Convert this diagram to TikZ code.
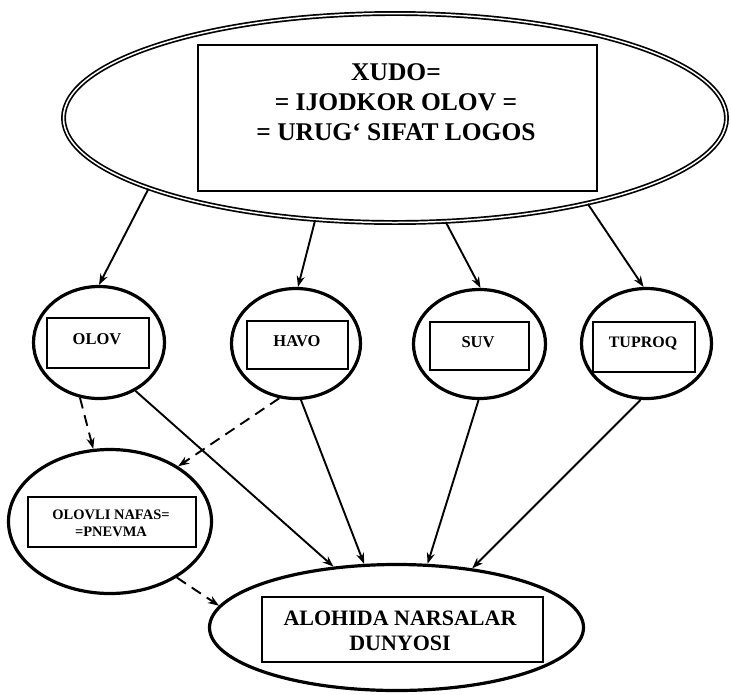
\documentclass[tikz,border=0pt]{standalone}
\usepackage{fontspec}
\setmainfont{Liberation Serif}
\usetikzlibrary{shapes.geometric,arrows.meta}
\begin{document}
\begin{tikzpicture}[x=1pt,y=-1pt,
  bigell/.style={ellipse,draw,double,line width=1.7pt,double distance=1.5pt,inner sep=0pt},
  circ/.style={ellipse,draw,line width=3.2pt,inner sep=0pt},
  box/.style={rectangle,draw,line width=1.8pt,inner sep=0pt},
  lbl/.style={font=\bfseries,align=center,inner sep=0pt},
  arr/.style={line width=1.9pt,-{Stealth[length=11pt,width=8pt]}},
  darr/.style={arr,dash pattern=on 11pt off 7pt}]
\useasboundingbox (0,0) rectangle (731,694);
% top
\node[bigell,minimum width=663pt,minimum height=209pt] (god) at (395,118) {};
\node[box,minimum width=399pt,minimum height=146pt] (godbox) at (397.5,118) {};
\node[lbl,font=\fontsize{25.5}{30}\selectfont\bfseries] (godtxt) at (396,102) {XUDO=\\= IJODKOR OLOV =\\= URUG‘ SIFAT LOGOS};
% elements
\node[circ,minimum width=131pt,minimum height=112pt] (olov) at (99,342.5) {};
\node[box,minimum width=102pt,minimum height=50pt] (olovbox) at (98,343) {};
\node[lbl,font=\fontsize{16.5}{19}\selectfont\bfseries] (olovtxt) at (97,339) {OLOV};
\node[circ,minimum width=129pt,minimum height=110pt] (havo) at (296,343.5) {};
\node[box,minimum width=101pt,minimum height=48pt] (havobox) at (297.5,345) {};
\node[lbl,font=\fontsize{16.5}{19}\selectfont\bfseries] (havotxt) at (297,341) {HAVO};
\node[circ,minimum width=132pt,minimum height=109pt] (suv) at (479.5,344) {};
\node[box,minimum width=99pt,minimum height=48pt] (suvbox) at (479.5,346) {};
\node[lbl,font=\fontsize{16.5}{19}\selectfont\bfseries] (suvtxt) at (478,342) {SUV};
\node[circ,minimum width=130pt,minimum height=110pt] (tuproq) at (646.5,343.5) {};
\node[box,minimum width=102pt,minimum height=50pt] (tuproqbox) at (644,347) {};
\node[lbl,font=\fontsize{16}{19}\selectfont\bfseries] (tuproqtxt) at (643,343) {TUPROQ};
% pneuma
\node[circ,minimum width=203pt,minimum height=144pt] (pnevma) at (110,521.5) {};
\node[box,minimum width=168pt,minimum height=50pt] (pnevmabox) at (112,522) {};
\node[lbl,font=\fontsize{14.5}{17}\selectfont\bfseries] (pnevmatxt) at (111,523) {OLOVLI NAFAS=\\=PNEVMA};
% world
\node[circ,minimum width=374pt,minimum height=126pt] (world) at (396.5,627.5) {};
\node[box,minimum width=281pt,minimum height=65pt] (worldbox) at (402.5,629.5) {};
\node[lbl,font=\fontsize{22}{25}\selectfont\bfseries] (worldtxt) at (400,631) {ALOHIDA NARSALAR\\DUNYOSI};
% arrows from top
\draw[arr] (god.196.3) -- (olov.90);
\draw[arr] (god.232.5) -- (havo.88);
\draw[arr] (god.296.6) -- (suv.89);
\draw[arr] (god.336) -- (tuproq.93);
% solid arrows to world
\draw[arr] (olov.307.5) -- (world.136.3);
\draw[arr] (havo.275.5) -- (world.117.9);
\draw[arr] (suv.269) -- (world.64.8);
\draw[arr] (tuproq.264.6) -- (world.38.3);
% dashed arrows
\draw[darr] (olov.251.9) -- (pnevma.103);
\draw[darr] (havo.253.3) -- (pnevma.39.6);
\draw[darr] (pnevma.320) -- (world.173.6);
\end{tikzpicture}
\end{document}
